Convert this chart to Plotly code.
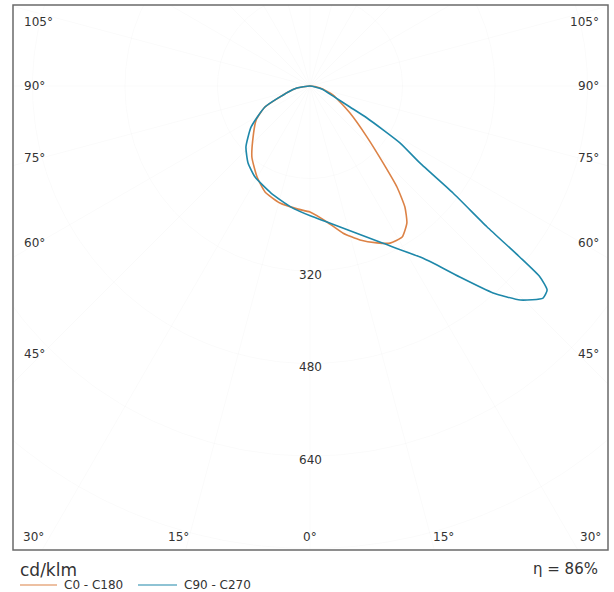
import numpy as np
import plotly.graph_objects as go

# ---- data (gamma in degrees, signed: negative = left half-plane; intensity in cd/klm)
gamma_c0_c180 = [-90, -81, -74.7, -65.0, -57.8, -48.2, -39.2, -30.2, -23.0, -14.4, -5.6, 0,
                 7.1, 12.7, 18.0, 23.1, 27.0, 31.4, 35.3, 38.1, 40.7, 43.5, 48.2, 56.0,
                 68.6, 78.7, 90]
intensity_c0_c180 = [0, 23, 39, 86, 110, 132, 159, 182, 199, 209, 214, 218,
                     237, 261, 280, 295, 305, 306, 290, 266, 231, 184, 132, 83,
                     43, 18, 0]

gamma_c90_c270 = [-90, -81, -74.7, -65.0, -55.2, -46.4, -38.8, -31.1, -20.0, -8.9, 0.4,
                  7.1, 24.9, 32.8, 34.8, 38.1, 41.5, 44.5, 47.7, 49.3, 50.3, 50.8, 51.5,
                  53.2, 55.0, 57.7, 60.7, 62.3, 66.5, 76, 90]
intensity_c90_c270 = [0, 23, 39, 86, 124, 153, 171, 184, 197, 212, 225,
                      237, 300, 352, 373, 420, 478, 519, 545, 541, 517, 468, 391,
                      309, 232, 184, 113, 78, 43, 21, 0]

radial_ticks = [160, 320, 480, 640, 800]
radial_labels = ["320", "480", "640"]
angle_side_labels = ["105°", "90°", "75°", "60°", "45°"]
angle_bottom_labels = ["30°", "15°", "0°", "15°", "30°"]
series_names = ["C0 - C180", "C90 - C270"]
unit_label = "cd/klm"
efficiency_label = "η = 86%"

COL_C0 = "#dc8246"
COL_C90 = "#1e88aa"
TXT = "#333333"
FONT = "DejaVu Sans"


def to_xy(g, i):
    g = np.radians(np.asarray(g, float))
    i = np.asarray(i, float)
    return i * np.sin(g), -i * np.cos(g)


fig = go.Figure()

# very faint polar grid
th = np.linspace(0, 2 * np.pi, 361)
for r in radial_ticks:
    fig.add_trace(go.Scatter(x=r * np.sin(th), y=r * np.cos(th), mode="lines",
                             line=dict(color="rgba(0,0,0,0.018)", width=1),
                             hoverinfo="skip", showlegend=False))
for a in range(-180, 180, 15):
    gx, gy = to_xy([a, a], [0, 1500])
    fig.add_trace(go.Scatter(x=gx, y=gy, mode="lines",
                             line=dict(color="rgba(0,0,0,0.018)", width=1),
                             hoverinfo="skip", showlegend=False))

for g, i, col, name in [(gamma_c0_c180, intensity_c0_c180, COL_C0, series_names[0]),
                        (gamma_c90_c270, intensity_c90_c270, COL_C90, series_names[1])]:
    x, y = to_xy(g, i)
    fig.add_trace(go.Scatter(x=x, y=y, mode="lines", name=name,
                             line=dict(color=col, width=1.6, shape="spline", smoothing=0.5),
                             showlegend=False))

# plot box in pixels: left 13, right 608, top 5, bottom 550 ; centre (310, 86); 0.578125 px per cd/klm
L, R, T, B = 13, 608, 5, 550
CX, CY, K = 310, 86, 92.5 / 160


def P(px, py):
    return (px - L) / (R - L), (B - py) / (B - T)


ann = []
side_y = [22, 86, 158, 243, 354]
for lab, py in zip(angle_side_labels, side_y):
    x0, y0 = P(22, py)
    ann.append(dict(x=x0, y=y0, text=lab, xanchor="left"))
    x1, y1 = P(601, py)
    ann.append(dict(x=x1, y=y1, text=lab, xanchor="right"))
for lab, px in zip(angle_bottom_labels, [33, 178, 310, 443, 590]):
    x0, y0 = P(px, 537)
    ann.append(dict(x=x0, y=y0, text=lab, xanchor="center"))
for lab, py in zip(radial_labels, [275, 367, 460]):
    x0, y0 = P(310, py)
    ann.append(dict(x=x0, y=y0, text=lab, xanchor="center"))
annotations = []
for a in ann:
    annotations.append(dict(xref="paper", yref="paper", x=a["x"], y=a["y"], text=a["text"],
                            xanchor=a["xanchor"], yanchor="middle", showarrow=False,
                            font=dict(family=FONT, size=12, color=TXT)))

x0, y0 = P(18, 570)
annotations.append(dict(xref="paper", yref="paper", x=x0, y=y0, text=unit_label, xanchor="left",
                        yanchor="middle", showarrow=False, font=dict(family=FONT, size=17, color=TXT)))
x0, y0 = P(600, 569)
annotations.append(dict(xref="paper", yref="paper", x=x0, y=y0, text=efficiency_label, xanchor="right",
                        yanchor="middle", showarrow=False, font=dict(family=FONT, size=15, color=TXT)))

shapes = [dict(type="rect", xref="paper", yref="paper", x0=0, y0=0, x1=1, y1=1,
               line=dict(color="#6a6a6a", width=1.5))]
for (lx0, lx1, tx, col, name) in [(20, 57, 62, COL_C0, series_names[0]),
                                  (138, 177, 182, COL_C90, series_names[1])]:
    a0, b0 = P(lx0, 585)
    a1, _ = P(lx1, 585)
    shapes.append(dict(type="line", xref="paper", yref="paper", x0=a0, x1=a1, y0=b0, y1=b0,
                       line=dict(color=col, width=1.2)))
    t0, _ = P(tx, 585)
    annotations.append(dict(xref="paper", yref="paper", x=t0, y=b0, text=name, xanchor="left",
                            yanchor="middle", showarrow=False, font=dict(family=FONT, size=12, color=TXT)))

xr = [(L - CX) / K, (R - CX) / K]
yr = [-(B - CY) / K, (CY - T) / K]

fig.update_layout(
    width=614, height=592,
    margin=dict(l=L, r=614 - R, t=T, b=592 - B),
    paper_bgcolor="white", plot_bgcolor="white",
    xaxis=dict(range=xr, visible=False, fixedrange=True),
    yaxis=dict(range=yr, visible=False, fixedrange=True),
    annotations=annotations, shapes=shapes,
    showlegend=False,
)

fig.write_html("out.html", config={"displayModeBar": False},
               post_script="document.body.style.margin='0';document.body.style.overflow='hidden';")
